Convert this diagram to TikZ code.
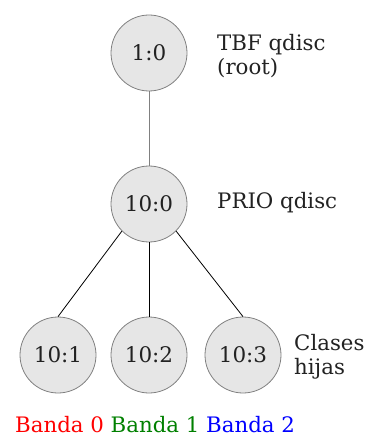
\documentclass[tikz,border=0pt]{standalone}
\usepackage{fontspec}
\setmainfont{DejaVu Serif}
\definecolor{nodefill}{HTML}{E6E6E6}
\definecolor{nodeline}{HTML}{808080}
\definecolor{txt}{HTML}{222222}
\definecolor{bgreen}{HTML}{008000}
\begin{document}
\begin{tikzpicture}[x=1pt,y=-1pt,
  qnode/.style={circle,draw=nodeline,fill=nodefill,line width=0.8pt,minimum size=76pt,inner sep=0pt,text=txt,font=\fontsize{21.5}{24}\selectfont},
  lbl/.style={anchor=west,align=left,text=txt,font=\fontsize{21.3}{24}\selectfont,inner sep=0pt},
  edge/.style={line width=0.8pt}]
\useasboundingbox (0,0) rectangle (374,435);
\node[qnode] (root) at (149,53) {1:0};
\node[qnode] (prio) at (149,204) {10:0};
\node[qnode] (c1) at (58,355) {10:1};
\node[qnode] (c2) at (149,355) {10:2};
\node[qnode] (c3) at (243,355) {10:3};
\draw[edge,nodeline] (root) -- (prio);
\draw[edge] (prio.south west) -- (c1.north);
\draw[edge] (prio.south) -- (c2.north);
\draw[edge] (prio.south east) -- (c3.north);
\node[lbl] (ltbf) at (217,56) {TBF qdisc\\(root)};
\node[lbl] (lprio) at (217,203) {PRIO qdisc};
\node[lbl] (lcl) at (294,357) {Clases\\hijas};
\node[anchor=base west,inner sep=0pt,font=\fontsize{21.3}{24}\selectfont] (leg) at (15,432) {\textcolor{red}{Banda 0} \textcolor{bgreen}{Banda 1} \textcolor{blue}{Banda 2}};
\end{tikzpicture}
\end{document}
